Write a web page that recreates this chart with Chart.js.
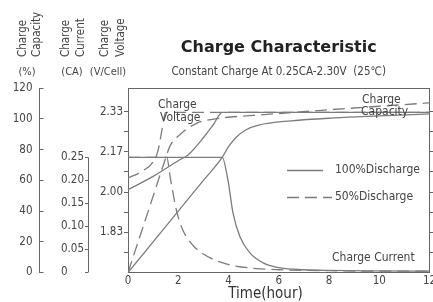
<!DOCTYPE html>
<html><head><meta charset="utf-8">
<script src="https://cdn.jsdelivr.net/npm/chart.js@4.4.0/dist/chart.umd.min.js"></script>
<style>html,body{margin:0;padding:0;background:#fff;}</style>
</head><body>
<canvas id="c" width="433" height="302"></canvas>
<script>
// ---- tick labels ----
const timeTicks = [0, 2, 4, 6, 8, 10, 12];
const capTicks = [0, 20, 40, 60, 80, 100, 120];
const curTicks = [0, 0.05, 0.10, 0.15, 0.20, 0.25];
const curLabels = ['0\u2007\u2007\u2008', '0.05', '0.10', '0.15', '0.20', '0.25'];
const voltTicks = [1.75, 1.8333, 1.9167, 2.0, 2.0833, 2.1667, 2.25, 2.3333];
const voltLabels = ['', '1.83', '', '2.00', '', '2.17', '', '2.33'];

// ---- series (time in hours) ----
const volt100T = [0, 1, 2, 2.4, 3, 3.4, 3.75, 12];
const volt100V = [2.01, 2.065, 2.13, 2.155, 2.225, 2.28, 2.33, 2.33];
const volt50T = [0, 0.5, 1, 1.2, 1.35, 1.5, 12];
const volt50V = [2.058, 2.083, 2.125, 2.174, 2.257, 2.33, 2.33];

const cap100T = [0, 1, 2, 3, 3.75, 4.0, 4.3, 4.7, 5.2, 6.5, 8.2, 10, 12];
const cap100V = [0, 20, 40, 60, 75, 82, 88, 93, 96, 98.8, 100.7, 102, 103.3];
const cap50T = [0, 0.77, 1.54, 1.66, 2.06, 2.73, 3.64, 5, 8, 10, 12];
const cap50V = [0, 38.2, 76.5, 82, 89.8, 97.2, 100.5, 102.3, 106, 108.3, 110.5];

const cur100T = [0, 1, 2, 3, 3.75, 3.98, 4.18, 4.46, 4.86, 5.38, 6.06, 7, 8, 10, 12];
const cur100V = [0.25, 0.25, 0.25, 0.25, 0.25, 0.2, 0.129, 0.077, 0.042, 0.021, 0.010, 0.006, 0.0045, 0.0035, 0.003];
const cur50T = [0, 1.54, 1.7, 1.95, 2.2, 2.6, 3.0, 3.5, 4.1, 5, 6, 8, 10, 12];
const cur50V = [0.25, 0.25, 0.2, 0.13, 0.09, 0.058, 0.04, 0.026, 0.016, 0.009, 0.006, 0.004, 0.003, 0.003];

const F = '"DejaVu Sans Condensed", "DejaVu Sans", sans-serif';
const LC = '#7c7c7c';
const AX = '#666666';
const TX = '#444444';
const DASH = [12, 6];

function pts(T, V) { return T.map((t, i) => ({x: t, y: V[i]})); }
function ds(label, axis, T, V, dashed) {
  return {label, yAxisID: axis, data: pts(T, V), borderColor: LC, borderWidth: 1.3,
    borderDash: dashed ? DASH : [], pointRadius: 0, fill: false, cubicInterpolationMode: 'monotone'};
}
const tickFont = {family: F, size: 11.5};

const deco = {
  id: 'deco',
  afterDraw(chart) {
    const c = chart.ctx, a = chart.chartArea, s = chart.scales;
    c.save();
    c.strokeStyle = AX; c.lineWidth = 1;
    // top frame
    c.beginPath(); c.moveTo(a.left, Math.round(a.top) + 0.5); c.lineTo(a.right, Math.round(a.top) + 0.5); c.stroke();
    // partial current axis line
    const yi = s.yi, xb = Math.round(yi.right) + 0.5;
    c.beginPath(); c.moveTo(xb, yi.getPixelForValue(0)); c.lineTo(xb, yi.getPixelForValue(0.25)); c.stroke();
    c.fillStyle = TX;
    // rotated axis titles
    c.font = '11.5px ' + F; c.textAlign = 'left'; c.textBaseline = 'middle';
    [['Charge', 23.5], ['Capacity', 37], ['Charge', 66], ['Current', 81], ['Charge', 105.5], ['Voltage', 121]].forEach(([t, x]) => {
      c.save(); c.translate(x, 57); c.rotate(-Math.PI / 2); c.fillText(t, 0, 0); c.restore();
    });
    c.textAlign = 'center';
    c.font = '11px ' + F;
    c.fillText('(%)', 27, 72); c.fillText('(CA)', 72, 72); c.fillText('(V/Cell)', 108, 72);
    // curve labels
    c.font = '12px ' + F; c.textAlign = 'left';
    c.fillText('Charge', 158, 105); c.fillText('Voltage', 160, 118);
    c.fillText('Charge', 362, 100); c.fillText('Capacity', 361, 112);
    c.fillText('Charge Current', 332, 258);
    // legend
    c.fillText('100%Discharge', 335, 170);
    c.fillText('50%Discharge', 335, 197);
    c.strokeStyle = LC; c.lineWidth = 1.3;
    c.beginPath(); c.moveTo(287, 170.5); c.lineTo(323, 170.5); c.stroke();
    c.setLineDash(DASH);
    c.beginPath(); c.moveTo(287, 197.5); c.lineTo(332, 197.5); c.stroke();
    c.setLineDash([]);
    // x title
    c.font = '15px ' + F; c.textAlign = 'center'; c.fillStyle = '#333';
    c.fillText('Time(hour)', 265.5, 294);
    c.restore();
  }
};

new Chart(document.getElementById('c'), {
  type: 'line',
  data: {datasets: [
    ds('Charge Voltage 100%', 'yv', volt100T, volt100V, false),
    ds('Charge Capacity 100%', 'yc', cap100T, cap100V, false),
    ds('Charge Current 100%', 'yi', cur100T, cur100V, false),
    ds('Charge Voltage 50%', 'yv', volt50T, volt50V, true),
    ds('Charge Capacity 50%', 'yc', cap50T, cap50V, true),
    ds('Charge Current 50%', 'yi', cur50T, cur50V, true)
  ]},
  options: {
    responsive: false, animation: false, devicePixelRatio: 1,
    layout: {padding: {left: 0, right: 3.5, top: 0, bottom: 0}},
    plugins: {
      legend: {display: false}, tooltip: {enabled: false},
      title: {display: true, text: 'Charge Characteristic', fullSize: false, color: '#222',
        font: {family: '"DejaVu Sans", sans-serif', size: 16, weight: 'bold'}, padding: {top: 38.4, bottom: 0}},
      subtitle: {display: true, text: 'Constant Charge At 0.25CA-2.30V  (25℃)', fullSize: false, color: TX,
        font: {family: F, size: 11.5}, padding: {top: 8.0, bottom: 8.9}}
    },
    scales: {
      x: {type: 'linear', position: 'bottom', min: 0, max: 12,
        afterBuildTicks: sc => { sc.ticks = timeTicks.map(v => ({value: v})); },
        afterFit: sc => { sc.height = 29.5; sc.paddingLeft = 0; sc.paddingRight = 0; },
        grid: {drawOnChartArea: false, drawTicks: false},
        border: {display: true, color: AX, width: 1},
        ticks: {font: tickFont, color: TX, padding: 2, maxRotation: 0, autoSkip: false,
          callback: (v, i) => String(timeTicks[i])}},
      yc: {type: 'linear', position: 'left', weight: 3, min: 0, max: 120,
        afterBuildTicks: sc => { sc.ticks = capTicks.map(v => ({value: v})); },
        afterFit: sc => { sc.width = 39.5; },
        grid: {drawOnChartArea: false, tickLength: -4, color: AX},
        border: {display: true, color: AX, width: 1},
        ticks: {font: tickFont, color: TX, padding: 11, callback: (v, i) => String(capTicks[i])}},
      yi: {type: 'linear', position: 'left', weight: 2, min: 0, max: 0.4,
        afterBuildTicks: sc => { sc.ticks = curTicks.map(v => ({value: v})); },
        afterFit: sc => { sc.width = 48.5; },
        grid: {drawOnChartArea: false, tickLength: 3, color: AX},
        border: {display: false},
        ticks: {font: tickFont, color: TX, padding: 1, callback: (v, i) => curLabels[i]}},
      yv: {type: 'linear', position: 'left', weight: 1, min: 1.6667, max: 2.43,
        afterBuildTicks: sc => { sc.ticks = voltTicks.map(v => ({value: v})); },
        afterFit: sc => { sc.width = 40; },
        grid: {drawOnChartArea: false, tickLength: 4, color: AX},
        border: {display: true, color: AX, width: 1},
        ticks: {font: tickFont, color: TX, padding: 1, callback: (v, i) => voltLabels[i]}},
      yv2: {type: 'linear', position: 'right', min: 1.6667, max: 2.43,
        afterBuildTicks: sc => { sc.ticks = voltTicks.map(v => ({value: v})); },
        afterFit: sc => { sc.width = 0; },
        grid: {drawOnChartArea: false, tickLength: 4, color: AX},
        border: {display: true, color: AX, width: 1},
        ticks: {display: false}}
    }
  },
  plugins: [deco]
});
</script>
</body></html>
